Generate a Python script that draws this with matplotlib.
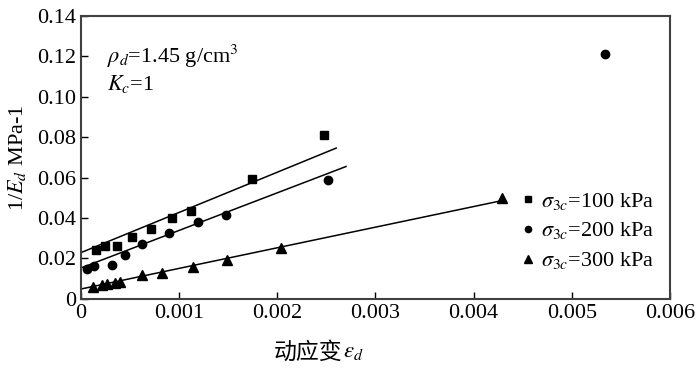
import numpy as np
import matplotlib
matplotlib.use('Agg')
import matplotlib.pyplot as plt

plt.rcParams['font.family'] = ['Liberation Serif', 'Noto Sans CJK SC']
plt.rcParams['mathtext.fontset'] = 'stix'

# sigma_3c = 100 kPa
x_100 = [0.00015, 0.00024, 0.00037, 0.00052, 0.00071, 0.00093, 0.00112, 0.00174, 0.00248]
y_100 = [0.0242, 0.0264, 0.0264, 0.0308, 0.0345, 0.0399, 0.0437, 0.0594, 0.0811]
# sigma_3c = 200 kPa
x_200 = [0.00006, 0.00013, 0.00032, 0.00045, 0.00062, 0.00090, 0.00119, 0.00148, 0.00252, 0.00534]
y_200 = [0.0147, 0.0163, 0.0170, 0.0219, 0.0271, 0.0328, 0.0379, 0.0416, 0.0587, 0.1211]
# sigma_3c = 300 kPa
x_300 = [0.000125, 0.00021, 0.00026, 0.00035, 0.00040, 0.00062, 0.00083, 0.00114, 0.00149, 0.00204, 0.00429]
y_300 = [0.0061, 0.0069, 0.0074, 0.0081, 0.0082, 0.0119, 0.0127, 0.0160, 0.0193, 0.0251, 0.0501]

# fitted lines: (slope, intercept, x end)
fit_100 = (19.9, 0.0229, 0.0026)
fit_200 = (18.6, 0.0153, 0.0027)
fit_300 = (10.2, 0.0049, 0.00429)

labels = [r'$\sigma_{3c}$=100 kPa', r'$\sigma_{3c}$=200 kPa', r'$\sigma_{3c}$=300 kPa']

fig = plt.figure(figsize=(7, 3.69), dpi=100)
ax = fig.add_axes([0.1157, 0.19, 0.8414, 0.7666])

ax.plot(x_100, y_100, 's', color='black', ms=6, label=labels[0])
ax.plot(x_200, y_200, 'o', color='black', ms=6, label=labels[1])
ax.plot(x_300, y_300, '^', color='black', ms=7.5, label=labels[2])

for slope, icpt, xend in [fit_100, fit_200, fit_300]:
    xx = np.array([0, xend])
    ax.plot(xx, slope * xx + icpt, color='black', lw=1.1)

ax.set_xlim(0, 0.006)
ax.set_ylim(0, 0.14)
ax.set_xticks(np.arange(0, 0.0061, 0.001))
ax.set_xticklabels(['0', '0.001', '0.002', '0.003', '0.004', '0.005', '0.006'])
ax.set_yticks(np.arange(0, 0.141, 0.02))
ax.set_yticklabels(['0', '0.02', '0.04', '0.06', '0.08', '0.10', '0.12', '0.14'])
ax.tick_params(direction='in', length=5, width=1, labelsize=16, top=False, right=False)

for s in ax.spines.values():
    s.set_linewidth(1.5)
    s.set_color('#404040')

# x label: Chinese part and the math symbol as separate texts
fig.text(342 / 700, 1 - 352 / 369, '动应变', fontsize=16.5, ha='right', va='center',
         family=['Noto Sans CJK SC'])
fig.text(343 / 700, 1 - 352 / 369, r'$\varepsilon_d$', fontsize=16.5, ha='left', va='center')
ax.set_ylabel(r'1/$E_d$ MPa-1', fontsize=16)
ax.yaxis.set_label_coords(-0.09, 0.5)

ax.text(0.00026, 0.12, r'$\rho_d$=1.45 g/cm$^3$', fontsize=16, va='center')
ax.text(0.00026, 0.1065, r'$K_c$=1', fontsize=16, va='center')

ax.legend(loc='center left', bbox_to_anchor=(0.721, 0.24), frameon=False, fontsize=16,
          handlelength=0.6, handletextpad=0.3, labelspacing=0.4, markerscale=0.75,
          borderpad=0.2)

fig.savefig('out.png', dpi=100)
